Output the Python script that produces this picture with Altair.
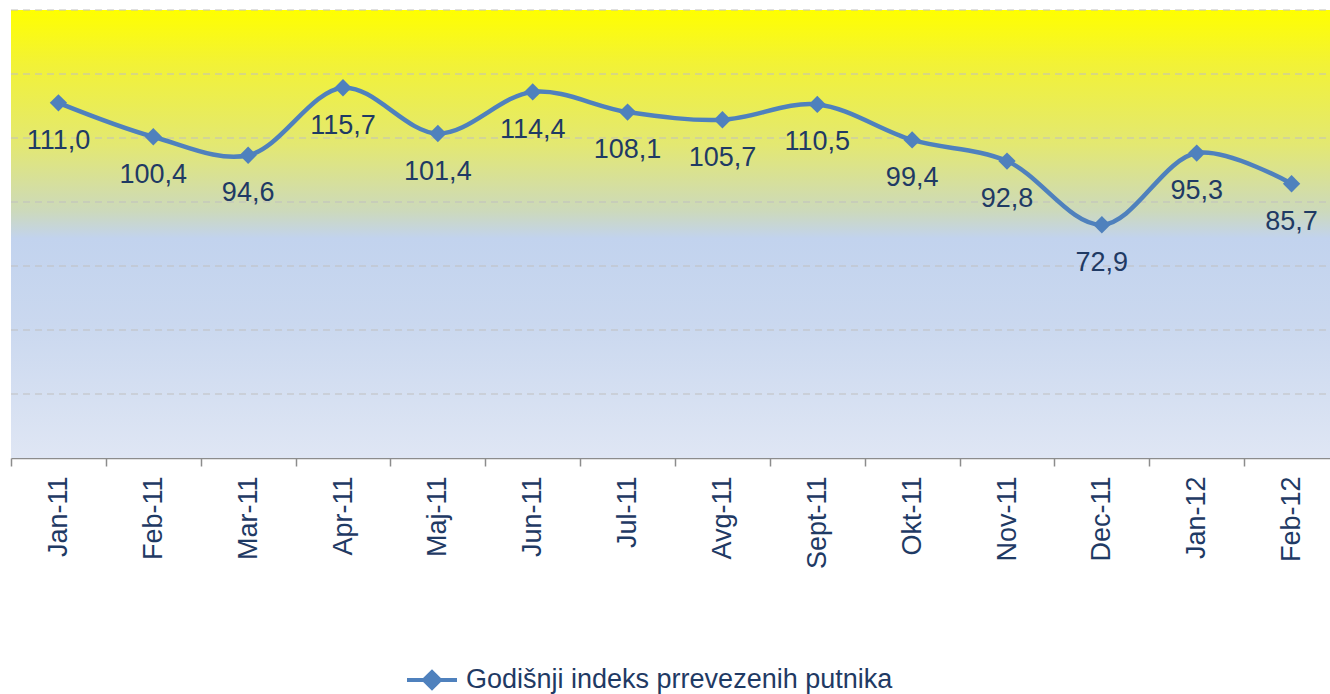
import altair as alt
import pandas as pd

MONTHS = ["Jan-11", "Feb-11", "Mar-11", "Apr-11", "Maj-11", "Jun-11", "Jul-11",
          "Avg-11", "Sept-11", "Okt-11", "Nov-11", "Dec-11", "Jan-12", "Feb-12"]
VALUES = [111.0, 100.4, 94.6, 115.7, 101.4, 114.4, 108.1,
          105.7, 110.5, 99.4, 92.8, 72.9, 95.3, 85.7]
SERIES = "Godišnji indeks prrevezenih putnika"
GRID = [20, 40, 60, 80, 100, 120, 140]

LINE_COLOR = "#4F81BD"
TEXT_COLOR = "#1F3A64"
FONT = "Liberation Sans"
FS = 27

df = pd.DataFrame({"month": MONTHS, "value": VALUES, "series": SERIES})
grid_df = pd.DataFrame({"g": GRID})

W, H = 1319, 448
XRANGE = [0, 1328]

x_enc = alt.X("month:N", sort=MONTHS,
              scale=alt.Scale(range=XRANGE, paddingInner=0, paddingOuter=0),
              axis=alt.Axis(title=None, labelAngle=270, labelAlign="right",
                            labelBaseline="middle", labelFontSize=FS, labelFont=FONT,
                            labelColor=TEXT_COLOR, labelPadding=10, tickBand="extent",
                            tickSize=8, tickColor="#8C8C8C", tickWidth=1.5,
                            domainColor="#8C8C8C", domainWidth=1.5, grid=False))
y_scale = alt.Scale(domain=[0, 140], nice=False, zero=True)

gradient = alt.Gradient(
    gradient="linear", x1=0, x2=0, y1=0, y2=1,
    stops=[
        alt.GradientStop(color="#FFFF00", offset=0.0),
        alt.GradientStop(color="#F2F236", offset=0.12),
        alt.GradientStop(color="#E3E872", offset=0.30),
        alt.GradientStop(color="#CCD9BC", offset=0.45),
        alt.GradientStop(color="#C2D3EE", offset=0.51),
        alt.GradientStop(color="#CAD8EF", offset=0.70),
        alt.GradientStop(color="#DFE6F4", offset=1.0),
    ],
)

bg = alt.Chart(pd.DataFrame({"a": [0]})).mark_rect(fill=gradient, stroke=None).encode(
    x=alt.value(0), x2=alt.value(1340), y=alt.value(0), y2=alt.value(H)
)

grid = alt.Chart(grid_df).mark_rule(color="#BFBFBF", strokeWidth=1.2, strokeDash=[7, 5]).encode(
    y=alt.Y("g:Q", scale=y_scale, axis=None),
    x=alt.value(0), x2=alt.value(1340),
)

base = alt.Chart(df)

line = base.mark_line(strokeWidth=4.5, interpolate="catmull-rom", color=LINE_COLOR).encode(
    x=x_enc,
    y=alt.Y("value:Q", scale=y_scale, axis=None),
)

points = base.mark_point(shape="diamond", filled=True, size=300, opacity=1).encode(
    x=alt.X("month:N", sort=MONTHS),
    y=alt.Y("value:Q", scale=y_scale),
    color=alt.Color("series:N",
                    scale=alt.Scale(domain=[SERIES], range=[LINE_COLOR]),
                    legend=alt.Legend(
                        title=None, orient="none", legendX=394, legendY=643,
                        symbolType="M-1,0L1,0M-0.32,0L0,-0.32L0.32,0L0,0.32Z",
                        symbolSize=2500, symbolStrokeWidth=4,
                        symbolFillColor=LINE_COLOR, symbolStrokeColor=LINE_COLOR,
                        symbolOpacity=1,
                        labelFontSize=FS, labelFont=FONT, labelColor=TEXT_COLOR,
                        labelOffset=7, labelLimit=800, padding=0)),
)

labels = base.transform_calculate(
    lab="replace(format(datum.value, '.1f'), '.', ',')"
).mark_text(dy=38, fontSize=FS, font=FONT, color=TEXT_COLOR, baseline="middle").encode(
    x=alt.X("month:N", sort=MONTHS),
    y=alt.Y("value:Q", scale=y_scale),
    text="lab:N",
)

chart = alt.layer(bg, grid, line, points, labels).properties(
    width=W, height=H,
    autosize=alt.AutoSizeParams(type="none"),
    padding={"left": 11, "top": 10, "right": 0, "bottom": 236},
    background="white",
).configure_view(stroke=None)

chart.save("out.html", embed_options={"renderer": "svg", "actions": False})
